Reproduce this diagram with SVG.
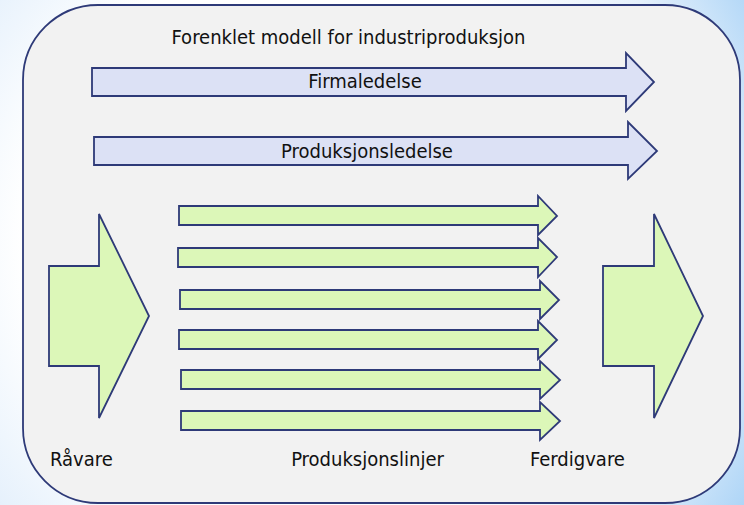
<svg xmlns="http://www.w3.org/2000/svg" width="744" height="505" viewBox="0 0 744 505">
  <defs>
    <radialGradient id="bg" gradientUnits="userSpaceOnUse" cx="310" cy="240" r="520">
      <stop offset="0" stop-color="#ffffff"/>
      <stop offset="0.55" stop-color="#ffffff"/>
      <stop offset="0.78" stop-color="#e6f1fc"/>
      <stop offset="1" stop-color="#a8d2f6"/>
    </radialGradient>
    <style>
      .frame { fill: #f2f2f2; stroke: #2e3a78; stroke-width: 1.8; }
      .blue { fill: #dce1f5; stroke: #2e3a78; stroke-width: 1.8; stroke-linejoin: miter; }
      .green { fill: #dcf7b8; stroke: #2e3a78; stroke-width: 1.8; stroke-linejoin: miter; }
      text { font-family: "DejaVu Sans Condensed", "DejaVu Sans", sans-serif; font-size: 20px; fill: #111111; }
    </style>
  </defs>
  <rect x="0" y="0" width="744" height="505" fill="url(#bg)"/>
  <g id="frame">
    <rect class="frame" x="23" y="5" width="717" height="498" rx="75" ry="75"/>
    <text x="348.5" y="44" text-anchor="middle">Forenklet modell for industriproduksjon</text>
  </g>
  <g id="firmaledelse">
    <polygon class="blue" points="92,68 626,68 626,53 654,82 626,111 626,96 92,96"/>
    <text x="365" y="88" text-anchor="middle">Firmaledelse</text>
  </g>
  <g id="produksjonsledelse">
    <polygon class="blue" points="94,137 628,137 628,122 657,151 628,179 628,165 94,165"/>
    <text x="367" y="158" text-anchor="middle">Produksjonsledelse</text>
  </g>
  <g id="raavare">
    <polygon class="green" points="49,266 99,266 99,214 149,316 99,418 99,366 49,366"/>
    <text x="50" y="466">Råvare</text>
  </g>
  <g id="produksjonslinjer">
    <polygon class="green" points="179,206 538,206 538,196 557,216 538,235 538,225 179,225"/>
    <polygon class="green" points="178,248 538,248 538,238 557,257 538,277 538,267 178,267"/>
    <polygon class="green" points="180,290 540,290 540,281 559,300 540,319 540,309 180,309"/>
    <polygon class="green" points="179,330 538,330 538,321 557,340 538,359 538,349 179,349"/>
    <polygon class="green" points="181,370 540,370 540,361 560,380 540,399 540,389 181,389"/>
    <polygon class="green" points="181,411 540,411 540,402 560,421 540,440 540,430 181,430"/>
    <text x="367.5" y="466" text-anchor="middle">Produksjonslinjer</text>
  </g>
  <g id="ferdigvare">
    <polygon class="green" points="603,266 654,266 654,214 703,316 654,418 654,366 603,366"/>
    <text x="530" y="466">Ferdigvare</text>
  </g>
  <g id="connectors"></g>
</svg>
